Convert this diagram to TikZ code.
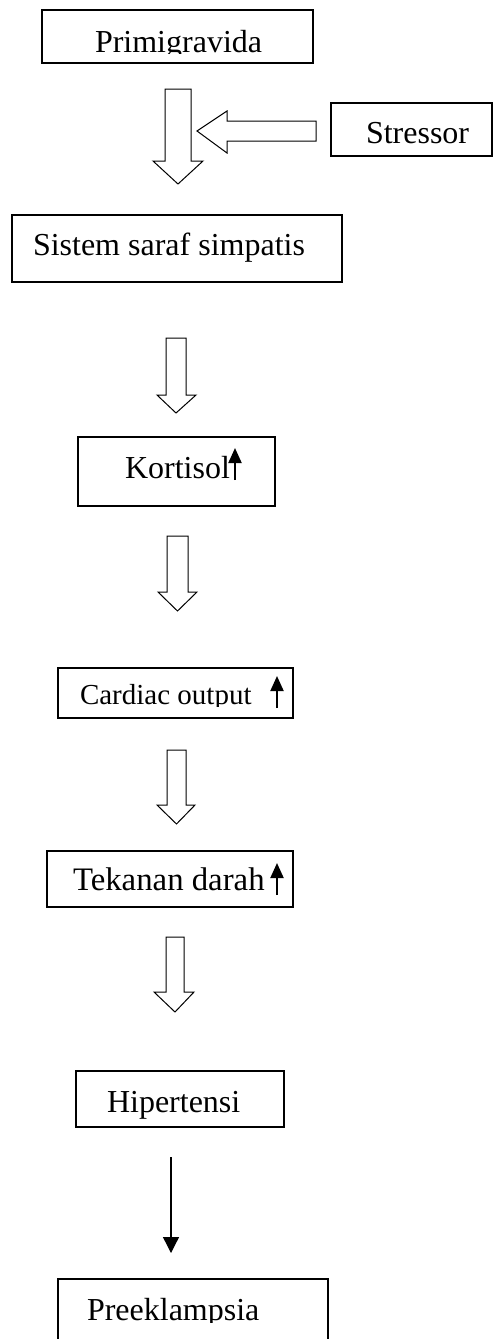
\documentclass[tikz,border=0pt]{standalone}
\usepackage{fontspec}
\setmainfont{Liberation Serif}
\usetikzlibrary{arrows.meta}

\tikzset{
  box/.style={draw, line width=1.1pt, anchor=north west, inner sep=0pt, outer sep=0pt},
  txt/.style={anchor=base west, inner sep=0pt, outer sep=0pt, font=\fontsize{32}{38}\selectfont},
  smalltxt/.style={txt, font=\fontsize{29}{35}\selectfont},
  bigtxt/.style={txt, font=\fontsize{32.8}{39}\selectfont},
  blockarrow/.style={draw, line width=1pt, line join=miter, fill=white},
  rise/.style={line width=2pt, -{Triangle[width=13pt,length=15pt]}},
  link/.style={line width=1.3pt, -{Triangle[width=16pt,length=16pt]}}
}

% hollow downward block arrow: shaft left/right, top, head start, wing left/right, tip
\newcommand\downblock[7]{%
  \draw[blockarrow] (#1,#3) -- (#1,#4) -- (#5,#4) -- ({(#1+#2)/2},#7)
    -- (#6,#4) -- (#2,#4) -- (#2,#3) -- cycle;}

\begin{document}
\begin{tikzpicture}[x=1pt, y=-1pt]
  \fill[white] (0,0) rectangle (494,1339);
  \useasboundingbox (0,0) rectangle (494,1339);

  % boxes
  \node[box, minimum width=271pt, minimum height=53pt] (prim) at (42,10) {};
  \node[box, minimum width=161pt, minimum height=53pt] (stress) at (331,103) {};
  \node[box, minimum width=330pt, minimum height=67pt] (sis) at (12,215) {};
  \node[box, minimum width=197pt, minimum height=69pt] (kort) at (78,437) {};
  \node[box, minimum width=235pt, minimum height=50pt] (card) at (58,668) {};
  \node[box, minimum width=246pt, minimum height=56pt] (tek) at (47,851) {};
  \node[box, minimum width=208pt, minimum height=56pt] (hip) at (76,1071) {};
  \node[box, minimum width=270pt, minimum height=90pt] (pre) at (58,1279) {};

  % labels (some are cut off by their frames)
  \begin{scope}
    \clip (42,10) rectangle (313,53);
    \node[txt] (primT) at (95,52) {Primigravida};
  \end{scope}
  \node[txt] (stressT) at (366,143) {Stressor};
  \node[txt] (sisT) at (33,255) {Sistem saraf simpatis};
  \node[txt] (kortT) at (125,478) {Kortisol};
  \begin{scope}
    \clip (58,668) rectangle (293,706);
    \node[smalltxt] (cardT) at (80,704) {Cardiac output};
  \end{scope}
  \node[bigtxt] (tekT) at (73,890) {Tekanan darah};
  \node[txt] (hipT) at (107,1112) {Hipertensi};
  \begin{scope}
    \clip (58,1279) rectangle (328,1322);
    \node[txt] (preT) at (87,1320) {Preeklampsia};
  \end{scope}

  % rising markers
  \draw[rise] (235,480) -- (235,448);
  \draw[rise] (277,708) -- (277,676);
  \draw[rise] (277,895) -- (277,863);

  % hollow block arrows
  \downblock{165}{191}{89}{161}{153}{203}{184}
  \draw[blockarrow] (316,121) -- (227,121) -- (227,111) -- (197,131)
    -- (227,153) -- (227,141) -- (316,141) -- cycle;
  \downblock{166}{186}{338}{395}{157}{196}{413}
  \downblock{167}{188}{536}{592}{158}{197}{611}
  \downblock{167}{186}{750}{805}{157}{195}{824}
  \downblock{166}{184}{937}{992}{154}{194}{1012}

  % plain arrow to the last box
  \coordinate (h1) at (171,1157);
  \coordinate (p1) at (171,1253);
  \draw[link] (h1) -- (p1);
\end{tikzpicture}
\end{document}
